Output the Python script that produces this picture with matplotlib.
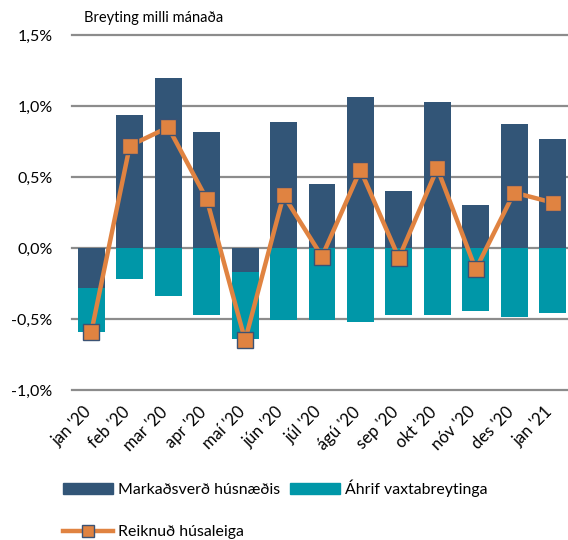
import matplotlib.pyplot as plt
import matplotlib.transforms as mtransforms
from matplotlib.lines import Line2D
import matplotlib.patches as mpatches
import numpy as np

plt.rcParams['font.family'] = ['Lato', 'DejaVu Sans']

months = ["jan '20", "feb '20", "mar '20", "apr '20", "maí '20", "jún '20", "júl '20",
          "ágú '20", "sep '20", "okt '20", "nóv '20", "des '20", "jan '21"]
market = [-0.28, 0.94, 1.20, 0.82, -0.17, 0.89, 0.45, 1.065, 0.40, 1.03, 0.30, 0.87, 0.77]
interest = [-0.31, -0.22, -0.34, -0.475, -0.47, -0.51, -0.51, -0.52, -0.47, -0.47, -0.445, -0.485, -0.455]
rent = [-0.59, 0.72, 0.85, 0.345, -0.65, 0.37, -0.06, 0.55, -0.07, 0.56, -0.15, 0.39, 0.32]
yticks = [-1.0, -0.5, 0.0, 0.5, 1.0, 1.5]

c_market = '#325577'
c_interest = '#0097a8'
c_rent = '#e08341'
c_edge = '#3b5274'

fig = plt.figure(figsize=(5.68, 5.40), dpi=100)
ax = fig.add_axes([0.127, 0.2778, 0.873, 0.6574])

x = np.arange(len(months))
market = np.array(market)
interest = np.array(interest)
# stack interest below market when market is negative
base = np.where(market < 0, market, 0)

for yv in yticks:
    ax.axhline(yv, color='#8c8c8c', lw=1.6, zorder=0, clip_on=False)

ax.bar(x, market, width=0.7, color=c_market, zorder=2)
ax.bar(x, interest, bottom=base, width=0.7, color=c_interest, zorder=2)
ax.plot(x, rent, color=c_rent, lw=3.2, marker='s', markersize=11,
        markerfacecolor=c_rent, markeredgecolor=c_edge, markeredgewidth=1.0, zorder=3)

ax.set_xlim(-0.5, 12.4)
ax.set_ylim(-1.0, 1.5)
ax.set_yticks(yticks)
ax.set_yticklabels([('%.1f%%' % v).replace('.', ',') for v in yticks], fontsize=11.5)
ax.set_xticks(x)
ax.set_xticklabels(months, rotation=45, ha='right', rotation_mode='anchor', fontsize=12)
ax.tick_params(axis='both', length=0)
ax.tick_params(axis='y', pad=14)
ax.tick_params(axis='x', pad=10)
shift = mtransforms.ScaledTranslation(-6 / 72, 0, fig.dpi_scale_trans)
for lbl in ax.get_xticklabels():
    lbl.set_transform(lbl.get_transform() + shift)
for s in ax.spines.values():
    s.set_visible(False)

fig.text(0.148, 0.966, 'Breyting milli mánaða', fontsize=10.5, va='center', ha='left')

handles = [
    mpatches.Patch(color=c_market, label='Markaðsverð húsnæðis'),
    Line2D([], [], color=c_rent, lw=3.2, marker='s', markersize=9,
           markerfacecolor=c_rent, markeredgecolor=c_edge, label='Reiknuð húsaleiga'),
    mpatches.Patch(color=c_interest, label='Áhrif vaxtabreytinga'),
]
fig.legend(handles=handles, ncol=2, loc='lower left', bbox_to_anchor=(0.085, -0.025),
           frameon=False, fontsize=11.4, handlelength=3.2, handleheight=0.75,
           labelspacing=1.75, columnspacing=0.6, handletextpad=0.3)

fig.savefig('out.png', dpi=100)
